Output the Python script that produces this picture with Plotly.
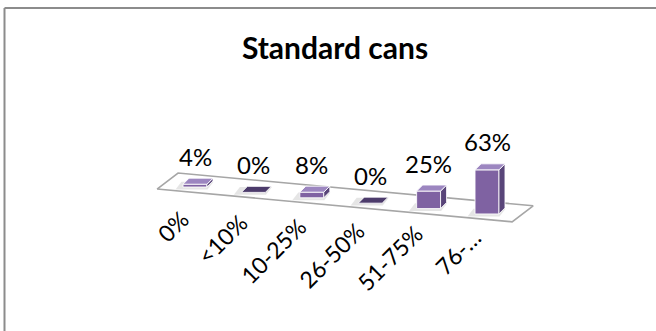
import plotly.graph_objects as go

# Survey answers for standard cans
categories = ["0%", "<10%", "10-25%", "26-50%", "51-75%", "76-…"]
values = [4, 0, 8, 0, 25, 63]
value_labels = [f"{v}%" for v in values]

# --- pseudo-3D geometry, in axis units (x: category index, y: percent) ---
W, H = 656, 331
PX_PER_CAT = 58.4          # horizontal spacing of categories
PX_PER_PCT = 0.7           # vertical scale of one percentage point
X0_PX, Y0_PX = 195, 187    # pixel position of first category on the floor

FLOOR_SLOPE = -7.7         # floor drops toward the right (percent units per category)
LABEL_SLOPE = -5.5         # category labels drop a little less than the floor
HALF_W = 0.205             # half width of a column front face
DEPTH_X, DEPTH_Y = 0.103, 8.6   # receding offset of the column top/side

FRONT = "#7F62A2"
SIDE = "#594579"
TOP = "#9C86C0"
ZERO_TOP = "#4C3B6B"
EDGE = "rgba(255,255,255,0.85)"

x_range = [-X0_PX / PX_PER_CAT, (W - X0_PX) / PX_PER_CAT]
y_range = [-(H - Y0_PX) / PX_PER_PCT, Y0_PX / PX_PER_PCT]


def base(x):
    return FLOOR_SLOPE * x


def poly(xs, ys, color, line_color=EDGE, width=1):
    return go.Scatter(
        x=xs + [xs[0]], y=ys + [ys[0]], mode="lines", fill="toself",
        fillcolor=color, line=dict(color=line_color, width=width),
        hoverinfo="skip", showlegend=False,
    )


fig = go.Figure()

# floor plate
n = len(categories)
fl_left, fl_right = -0.65, n - 1 + 0.43
fl_drop = -7.9
fl_dx, fl_dy = 0.36, 22.9
front_l = (fl_left, base(fl_left) + fl_drop)
front_r = (fl_right, base(fl_right) + fl_drop)
fig.add_trace(poly(
    [front_l[0], front_r[0], front_r[0] + fl_dx, front_l[0] + fl_dx],
    [front_l[1], front_r[1], front_r[1] + fl_dy, front_l[1] + fl_dy],
    "white", line_color="#A6A6A6", width=1.6,
))

# soft shadows beneath the columns
for i, v in enumerate(values):
    b = base(i)
    sx = i - 0.05
    fig.add_trace(poly(
        [sx - HALF_W - 0.08, sx + HALF_W + 0.06, sx + HALF_W + DEPTH_X + 0.06, sx - HALF_W + DEPTH_X - 0.08],
        [b - 3.5, b - 3.5, b + DEPTH_Y - 1, b + DEPTH_Y - 1],
        "rgba(0,0,0,0.10)", line_color="rgba(0,0,0,0)", width=0,
    ))

# columns: front, side and top faces
for i, v in enumerate(values):
    b = base(i)
    t = b + v
    xl, xr = i - HALF_W, i + HALF_W
    if v > 0:
        fig.add_trace(poly([xl, xr, xr, xl], [b, b, t, t], FRONT))
        fig.add_trace(poly(
            [xr, xr + DEPTH_X, xr + DEPTH_X, xr],
            [b, b + DEPTH_Y, t + DEPTH_Y, t], SIDE))
        top_color = TOP
    else:
        top_color = ZERO_TOP
    fig.add_trace(poly(
        [xl, xr, xr + DEPTH_X, xl + DEPTH_X],
        [t, t, t + DEPTH_Y, t + DEPTH_Y], top_color))

annotations = []
# value labels above each column
for i, (v, lab) in enumerate(zip(values, value_labels)):
    annotations.append(dict(
        x=i, y=base(i) + v + DEPTH_Y, text=lab, showarrow=False,
        xanchor="center", yanchor="middle", yshift=22,
        font=dict(family="Lato", size=24, color="#000000"),
    ))

# slanted category labels under the floor
for i, c in enumerate(categories):
    annotations.append(dict(
        x=i, y=LABEL_SLOPE * i, text=c, showarrow=False, textangle=-45,
        xanchor="right", yanchor="top", yshift=-15, xshift=2,
        font=dict(family="Lato", size=23, color="#000000"),
    ))

# chart frame (left and top edges)
shapes = [
    dict(type="line", xref="paper", yref="paper", x0=4.5 / W, x1=4.5 / W,
         y0=0, y1=1 - 8 / H, line=dict(color="#8C8C8C", width=2)),
    dict(type="line", xref="paper", yref="paper", x0=4.5 / W, x1=1,
         y0=1 - 8 / H, y1=1 - 8 / H, line=dict(color="#8C8C8C", width=2)),
]

fig.update_layout(
    width=W, height=H,
    margin=dict(l=0, r=0, t=0, b=0),
    paper_bgcolor="white", plot_bgcolor="white",
    title=dict(text="<b>Standard cans</b>", x=335 / W, xanchor="center",
               y=1 - 48 / H, yanchor="middle",
               font=dict(family="Lato", size=30, color="#000000")),
    xaxis=dict(range=x_range, visible=False, fixedrange=True),
    yaxis=dict(range=y_range, visible=False, fixedrange=True),
    annotations=annotations,
    shapes=shapes,
    showlegend=False,
)

fig.write_html("out.html")
